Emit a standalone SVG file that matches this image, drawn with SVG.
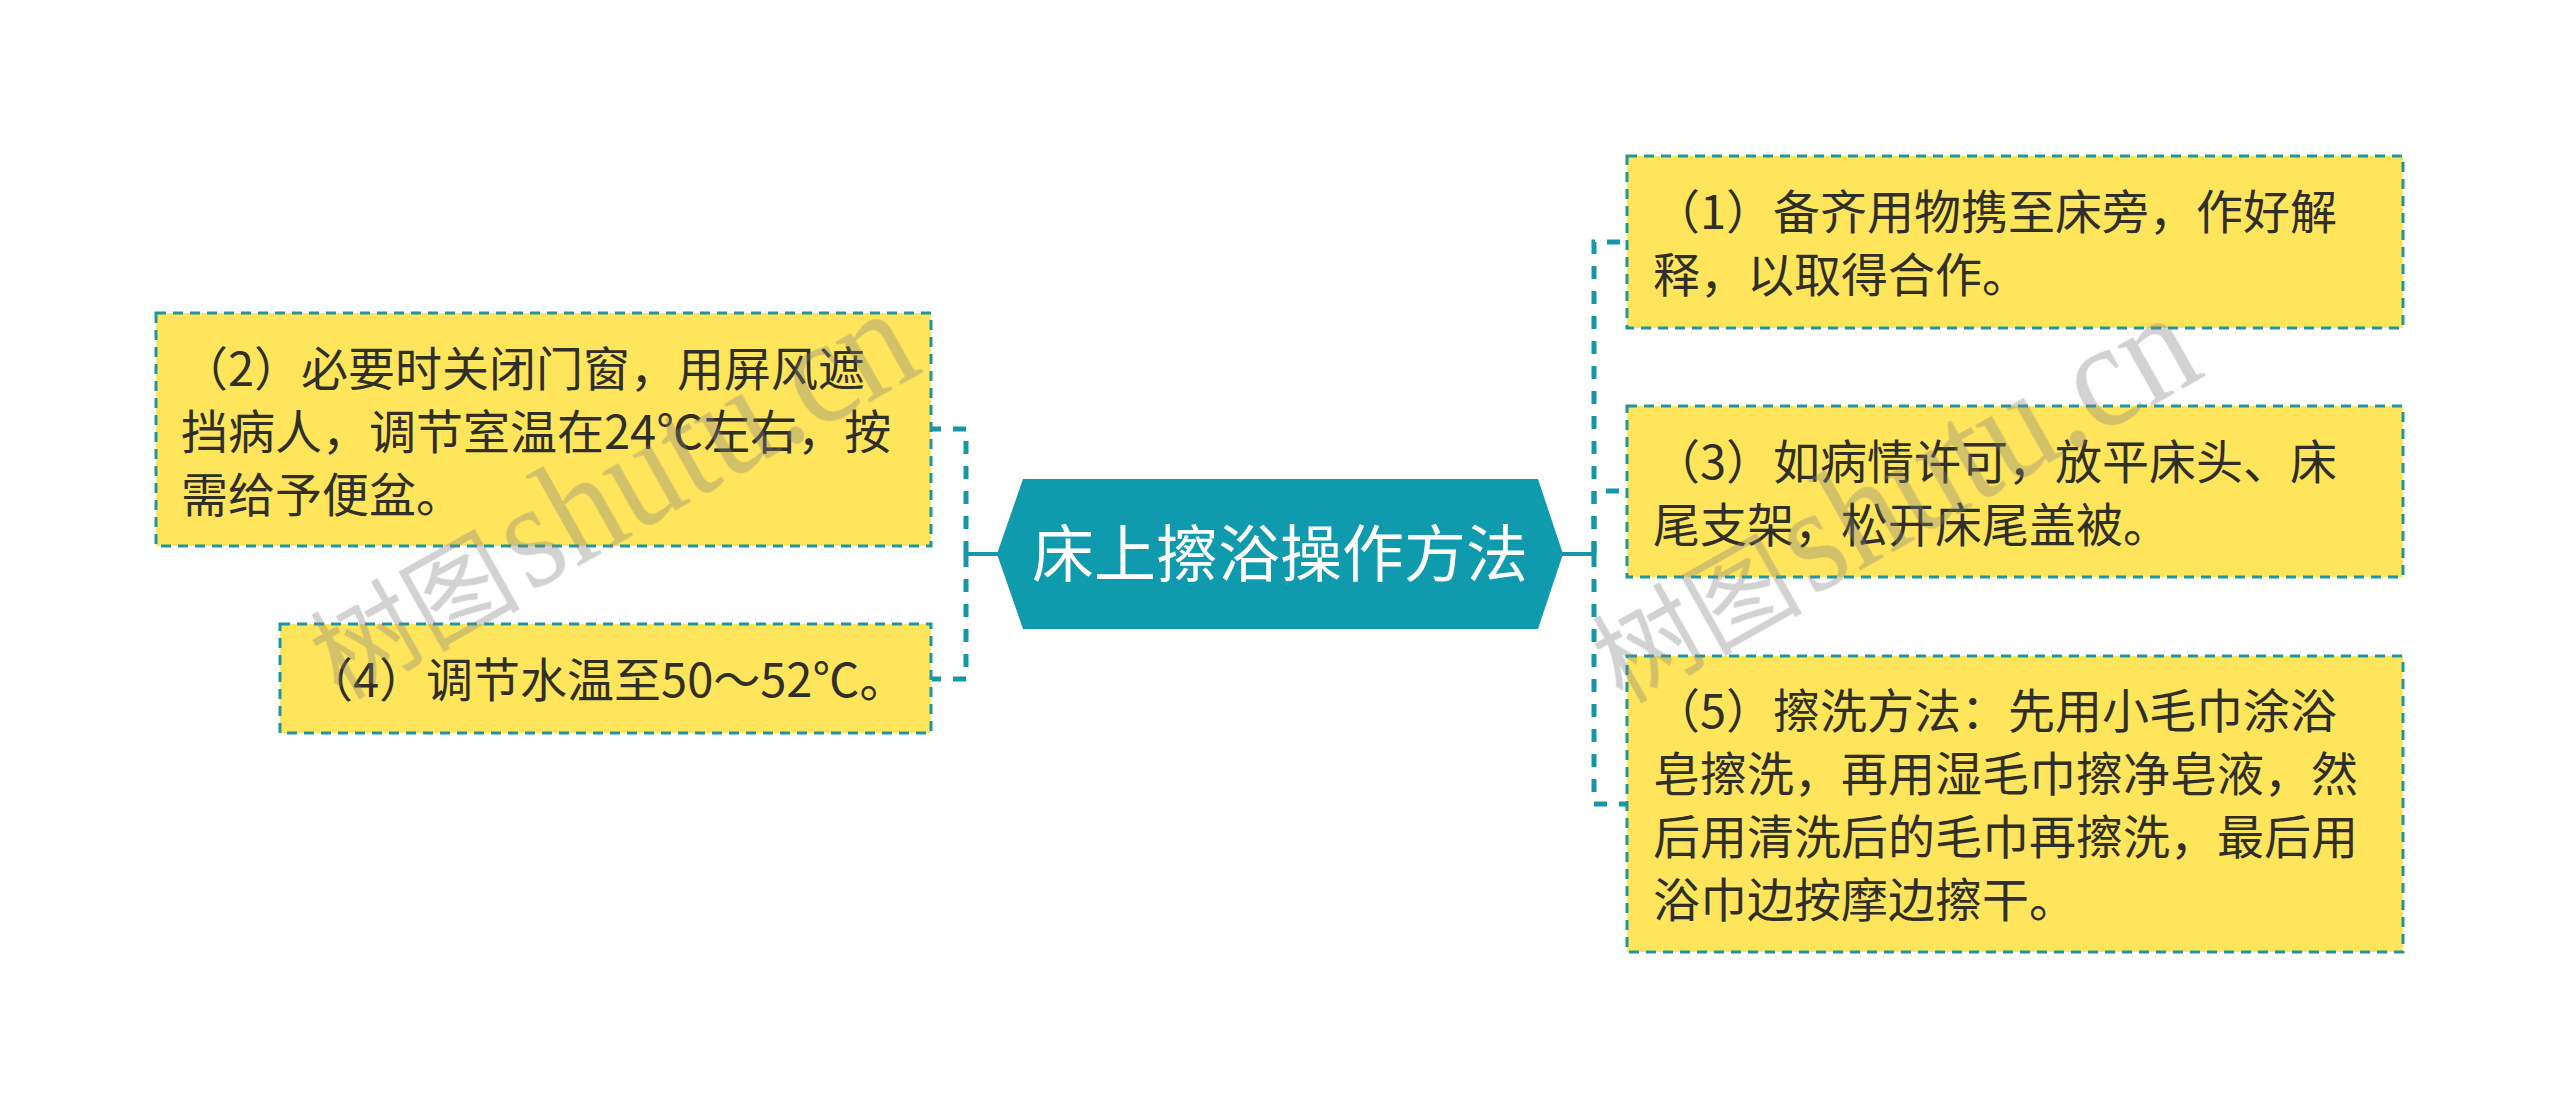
<svg xmlns="http://www.w3.org/2000/svg" width="2560" height="1108" viewBox="0 0 2560 1108">
  <style>
    .box { fill: #ffe55c; stroke: #1f959f; stroke-width: 3; stroke-dasharray: 10 7; }
    .txt { font-family: "Noto Sans CJK SC", "Noto Sans", sans-serif; font-size: 47px; fill: #2f2f28; }
    .conn { fill: none; stroke: #1597a8; stroke-width: 5; stroke-dasharray: 13 12; }
    .stem { fill: none; stroke: #1597a8; stroke-width: 4; }
    .wm { fill: #808080; opacity: 0.36; }
    .wmc { font-family: "Noto Sans CJK SC", serif; font-size: 105px; }
    .wml { font-family: "Liberation Serif", serif; font-size: 150px; }
  </style>
  <rect x="0" y="0" width="2560" height="1108" fill="#ffffff"/>

  <g id="connectors">
    <path class="stem" d="M966,554 H998"/>
    <path class="conn" d="M966,554 V429 H932"/>
    <path class="conn" d="M966,554 V679 H932"/>
    <path class="stem" d="M1562,554 H1594"/>
    <path class="conn" d="M1594,554 V242 H1627"/>
    <path class="conn" d="M1594,554 V491 H1627"/>
    <path class="conn" d="M1594,554 V804 H1627"/>
  </g>

  <g id="root">
    <polygon points="997,554 1023,479 1538,479 1563,554 1538,629 1023,629" fill="#0f9aad"/>
    <text x="1280" y="577" text-anchor="middle" font-family="Noto Sans CJK SC, Noto Sans, sans-serif" font-size="62" fill="#ffffff">床上擦浴操作方法</text>
  </g>

  <g id="node1">
    <rect class="box" x="1627" y="156" width="776" height="172"/>
    <text class="txt"><tspan x="1653" y="229">（1）备齐用物携至床旁，作好解</tspan><tspan x="1653" y="292">释，以取得合作。</tspan></text>
  </g>

  <g id="node2">
    <rect class="box" x="156" y="313" width="775" height="233"/>
    <text class="txt"><tspan x="181" y="386">（2）必要时关闭门窗，用屏风遮</tspan><tspan x="181" y="449">挡病人，调节室温在24℃左右，按</tspan><tspan x="181" y="512">需给予便盆。</tspan></text>
  </g>

  <g id="node3">
    <rect class="box" x="1627" y="406" width="776" height="171"/>
    <text class="txt"><tspan x="1653" y="479">（3）如病情许可，放平床头、床</tspan><tspan x="1653" y="542">尾支架，松开床尾盖被。</tspan></text>
  </g>

  <g id="node4">
    <rect class="box" x="280" y="624" width="651" height="109"/>
    <text class="txt"><tspan x="306" y="697">（4）调节水温至50～52℃。</tspan></text>
  </g>

  <g id="node5">
    <rect class="box" x="1627" y="656" width="776" height="296"/>
    <text class="txt"><tspan x="1653" y="728">（5）擦洗方法：先用小毛巾涂浴</tspan><tspan x="1653" y="791">皂擦洗，再用湿毛巾擦净皂液，然</tspan><tspan x="1653" y="854">后用清洗后的毛巾再擦洗，最后用</tspan><tspan x="1653" y="917">浴巾边按摩边擦干。</tspan></text>
  </g>

  <g id="watermarks" class="wm">
    <g transform="translate(340,700) rotate(-29.4)">
      <text class="wmc" x="0" y="0">树图</text>
      <text class="wml" transform="translate(218,0) scale(0.9,1)" x="0" y="0">shutu.cn</text>
    </g>
    <g transform="translate(1622,704) rotate(-29.4)">
      <text class="wmc" x="0" y="0">树图</text>
      <text class="wml" transform="translate(218,0) scale(0.9,1)" x="0" y="0">shutu.cn</text>
    </g>
  </g>
</svg>
